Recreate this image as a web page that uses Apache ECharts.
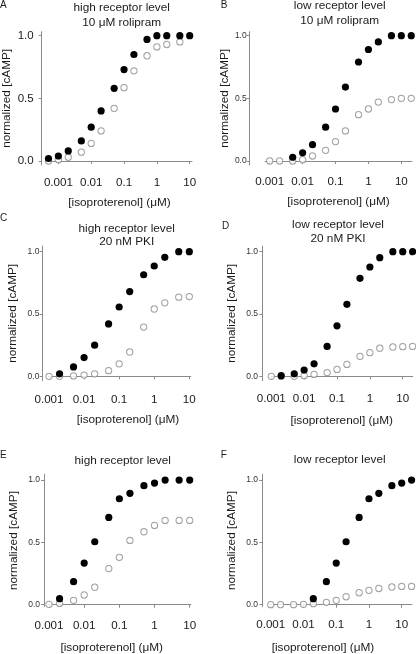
<!DOCTYPE html>
<html>
<head>
<meta charset="utf-8">
<script src="https://cdn.jsdelivr.net/npm/echarts@6/dist/echarts.min.js"></script>
<style>html,body{margin:0;padding:0;background:#fff}#c{width:416px;height:654px}</style>
</head>
<body>
<div id="c"></div>
<script>
// ---------- data ----------
const xTickValues = [0.001, 0.01, 0.1, 1, 10];
const xTickLabels = ['0.001', '0.01', '0.1', '1', '10'];
const yTickValues = [0, 0.5, 1];
const yTickLabels = ['0.0', '0.5', '1.0'];

const concA = [0.0005, 0.001, 0.002, 0.005, 0.01, 0.02, 0.05, 0.1, 0.2, 0.5, 1, 2, 5, 10];
const filledA = [0.02, 0.04, 0.08, 0.16, 0.27, 0.40, 0.58, 0.73, 0.85, 0.97, 1, 1, 1, 1];
const openA = [0, 0.01, 0.03, 0.07, 0.14, 0.24, 0.42, 0.585, 0.72, 0.84, 0.91, 0.93, 0.95, null];

const concB = [0.001, 0.002, 0.005, 0.01, 0.02, 0.05, 0.1, 0.2, 0.5, 1, 2, 5, 10, 20];
const filledB = [null, null, 0.03, 0.065, 0.13, 0.27, 0.415, 0.59, 0.79, 0.89, 0.95, 1, 1, 1];
const openB = [0, 0, 0, 0.01, 0.04, 0.085, 0.155, 0.24, 0.37, 0.415, 0.47, 0.49, 0.50, 0.50];

const concC = [0.001, 0.002, 0.005, 0.01, 0.02, 0.05, 0.1, 0.2, 0.5, 1, 2, 5, 10];
const filledC = [null, 0.02, 0.075, 0.15, 0.25, 0.42, 0.556, 0.68, 0.815, 0.885, 0.955, 1, 1];
const openC = [0, 0, 0.003, 0.01, 0.02, 0.045, 0.1, 0.195, 0.395, 0.54, 0.59, 0.635, 0.64];

const concD = [0.001, 0.002, 0.005, 0.01, 0.02, 0.05, 0.1, 0.2, 0.5, 1, 2, 5, 10, 20];
const filledD = [null, 0.005, 0.02, 0.05, 0.10, 0.24, 0.405, 0.578, 0.786, 0.877, 0.952, 1, 1, 1];
const openD = [0, 0, 0, 0.005, 0.015, 0.03, 0.055, 0.095, 0.16, 0.19, 0.225, 0.235, 0.238, 0.24];

const concE = [0.001, 0.002, 0.005, 0.01, 0.02, 0.05, 0.1, 0.2, 0.5, 1, 2, 5, 10];
const filledE = [null, 0.048, 0.185, 0.334, 0.505, 0.70, 0.85, 0.893, 0.955, 0.976, 1, 1, 1];
const openE = [0.003, 0.01, 0.035, 0.078, 0.14, 0.29, 0.38, 0.516, 0.585, 0.636, 0.676, 0.676, 0.676];

const concF = [0.001, 0.002, 0.005, 0.01, 0.02, 0.05, 0.1, 0.2, 0.5, 1, 2, 5, 10, 20];
const filledF = [null, null, null, null, 0.048, 0.185, 0.334, 0.505, 0.70, 0.85, 0.893, 0.955, 0.976, 1.0];
const openF = [0, 0, 0, 0.003, 0.008, 0.019, 0.035, 0.064, 0.096, 0.115, 0.13, 0.142, 0.147, 0.147];

const panelLetters = ['A', 'B', 'C', 'D', 'E', 'F'];
const titleLines = [
  ['high receptor level', '10 \u03bcM rolipram'],
  ['low receptor level', '10 \u03bcM rolipram'],
  ['high receptor level', '20 nM PKI'],
  ['low receptor level', '20 nM PKI'],
  ['high receptor level'],
  ['low receptor level']
];
const yAxisName = 'normalized [cAMP]';
const xAxisName = '[isoproterenol] (\u03bcM)';

// ---------- layout / style ----------
const FONT = '"Liberation Sans", Arial, Helvetica, sans-serif';
const panels = [
  {conc: concA, filled: filledA, open: openA,
   grid: {left: 47, top: 31.7, width: 145, height: 133.3}, xMin: 0.00045, xMax: 11.75, yMin: -0.032, yMax: 1.032,
   yOff: 5.3, xOff: 5, yLabSize: 11.5, yLabMargin: 8, xLabMargin: 7, yNameGap: 29.4, xNameGap: 26.5, xNamePad: [0,0,0,0],
   titleX: 121.7, titleY: [7.3, 22.3], letter: [0, 5]},
  {conc: concB, filled: filledB, open: openB,
   grid: {left: 265, top: 31.7, width: 147, height: 133.3}, xMin: 0.00072, xMax: 21.1, yMin: -0.032, yMax: 1.032,
   yOff: 15.3, xOff: 5, yLabSize: 8.5, yLabMargin: 3, xLabMargin: 6, yNameGap: 7.5, xNameGap: 25.3, xNamePad: [0,0,0,0],
   titleX: 339.7, titleY: [5.5, 20.3], letter: [220.7, 5]},
  {conc: concC, filled: filledC, open: openC,
   grid: {left: 48.3, top: 246, width: 142.4, height: 134.7}, xMin: 0.000955, xMax: 10.96, yMin: -0.0353, yMax: 1.0457,
   yOff: 5.6, xOff: 3, yLabSize: 8.5, yLabMargin: 3.3, xLabMargin: 9.8, yNameGap: 23.6, xNameGap: 29.9, xNamePad: [0,0,0,17],
   titleX: 126.7, titleY: [228.3, 241.7], letter: [0, 218.3]},
  {conc: concD, filled: filledD, open: openD,
   grid: {left: 270.7, top: 246, width: 142, height: 134.7}, xMin: 0.00096, xMax: 20.1, yMin: -0.0353, yMax: 1.0457,
   yOff: 8.4, xOff: 3, yLabSize: 8.5, yLabMargin: 4.3, xLabMargin: 8.9, yNameGap: 24.8, xNameGap: 31.2, xNamePad: [0,0,0,0],
   titleX: 338, titleY: [225, 238.3], letter: [222, 226]},
  {conc: concE, filled: filledE, open: openE,
   grid: {left: 48.3, top: 474.3, width: 142.4, height: 132.4}, xMin: 0.000955, xMax: 10.67, yMin: -0.016, yMax: 1.046,
   yOff: 4.3, xOff: 6, yLabSize: 8.5, yLabMargin: 4, xLabMargin: 7.5, yNameGap: 24.5, xNameGap: 28.9, xNamePad: [0,15.6,0,0],
   titleX: 122.7, titleY: [461], letter: [0, 455]},
  {conc: concF, filled: filledF, open: openF,
   grid: {left: 269.7, top: 474.3, width: 142.3, height: 132.4}, xMin: 0.00093, xMax: 20.6, yMin: -0.016, yMax: 1.046,
   yOff: 7.4, xOff: 6, yLabSize: 8.5, yLabMargin: 4.3, xLabMargin: 6.5, yNameGap: 24.8, xNameGap: 28.9, xNamePad: [0,35.8,0,0],
   titleX: 339.7, titleY: [459.3], letter: [220.7, 455]}
];

const AXIS_COLOR = '#8a8a8a';
const TEXT_COLOR = '#1a1a1a';

const option = {
  animation: false,
  backgroundColor: '#fff',
  grid: [], xAxis: [], yAxis: [], series: [], graphic: []
};

panels.forEach((p, i) => {
  option.grid.push(Object.assign({containLabel: false, outerBoundsMode: 'none'}, p.grid));
  option.xAxis.push({
    type: 'log', logBase: 10, gridIndex: i, min: p.xMin, max: p.xMax, offset: p.xOff,
    name: xAxisName, nameLocation: 'middle', nameGap: p.xNameGap,
    nameTextStyle: {fontFamily: FONT, fontSize: 11.8, color: TEXT_COLOR, padding: p.xNamePad},
    axisLine: {show: true, lineStyle: {color: AXIS_COLOR, width: 1}},
    axisTick: {show: true, inside: false, length: 3, lineStyle: {color: AXIS_COLOR}, customValues: xTickValues},
    axisLabel: {show: true, margin: p.xLabMargin, fontFamily: FONT, fontSize: 11.6, color: '#1a1a1a',
      customValues: xTickValues,
      formatter: v => { const k = xTickValues.findIndex(t => Math.abs(t - v) / t < 1e-6); return k >= 0 ? xTickLabels[k] : ''; }},
    splitLine: {show: false}, minorTick: {show: false}
  });
  option.yAxis.push({
    type: 'value', gridIndex: i, min: p.yMin, max: p.yMax, offset: p.yOff,
    name: yAxisName, nameLocation: 'middle', nameGap: p.yNameGap,
    nameTextStyle: {fontFamily: FONT, fontSize: 11.8, color: TEXT_COLOR},
    axisLine: {show: true, lineStyle: {color: AXIS_COLOR, width: 1}},
    axisTick: {show: true, inside: false, length: 3, lineStyle: {color: AXIS_COLOR}, customValues: yTickValues},
    axisLabel: {show: true, margin: p.yLabMargin, fontFamily: FONT, fontSize: p.yLabSize, color: i === 0 ? '#1a1a1a' : '#333',
      customValues: yTickValues,
      formatter: v => { const k = yTickValues.findIndex(t => Math.abs(t - v) < 1e-6); return k >= 0 ? yTickLabels[k] : ''; }},
    splitLine: {show: false}
  });
  option.series.push({
    type: 'scatter', xAxisIndex: i, yAxisIndex: i, z: 2,
    symbol: 'circle', symbolSize: 6.3,
    itemStyle: {color: '#fff', borderColor: '#8a8a8a', borderWidth: 1},
    data: p.conc.map((c, k) => p.open[k] == null ? null : [c, p.open[k]]).filter(d => d)
  });
  option.series.push({
    type: 'scatter', xAxisIndex: i, yAxisIndex: i, z: 3,
    symbol: 'circle', symbolSize: 7.2,
    itemStyle: {color: '#000', borderColor: '#000', borderWidth: 0, opacity: 1},
    data: p.conc.map((c, k) => p.filled[k] == null ? null : [c, p.filled[k]]).filter(d => d)
  });
  titleLines[i].forEach((t, j) => {
    option.graphic.push({type: 'text', x: p.titleX, y: p.titleY[j], silent: true,
      style: {text: t, fill: TEXT_COLOR, font: '11.8px ' + FONT, align: 'center', verticalAlign: 'middle'}});
  });
  option.graphic.push({type: 'text', x: p.letter[0], y: p.letter[1], silent: true,
    style: {text: panelLetters[i], fill: TEXT_COLOR, font: '10px ' + FONT, align: 'left', verticalAlign: 'middle'}});
});

const chart = echarts.init(document.getElementById('c'), null, {renderer: 'canvas'});
chart.setOption(option);
</script>
</body>
</html>
